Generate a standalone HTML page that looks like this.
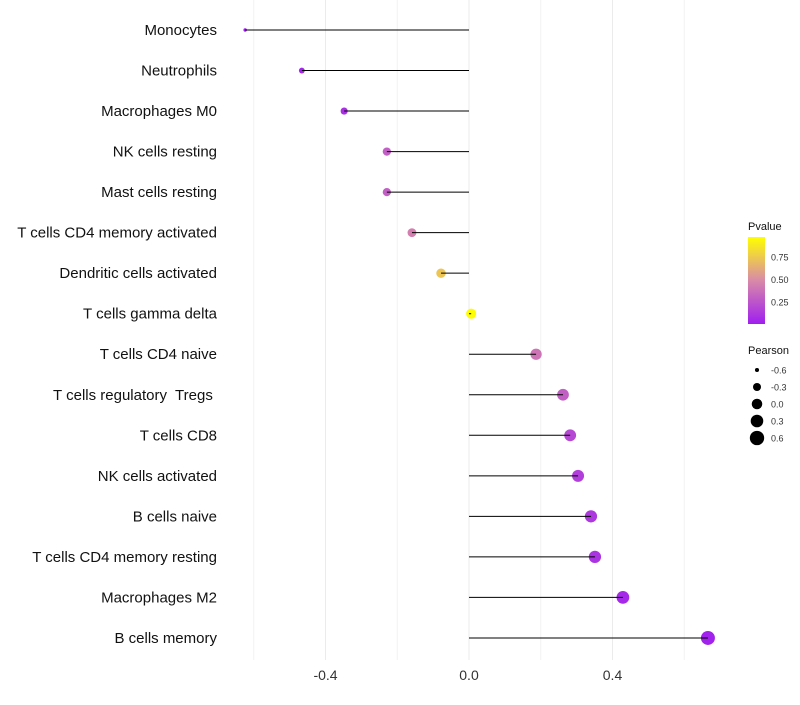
<!DOCTYPE html>
<html><head><meta charset="utf-8"><style>
body{margin:0;background:#fff;font-family:"Liberation Sans",sans-serif}
text{white-space:pre}
</style></head><body>
<svg id="chart" width="800" height="700" xmlns="http://www.w3.org/2000/svg"></svg>
<script>
const categories=["Monocytes","Neutrophils","Macrophages M0","NK cells resting","Mast cells resting","T cells CD4 memory activated","Dendritic cells activated","T cells gamma delta","T cells CD4 naive","T cells regulatory  Tregs ","T cells CD8","NK cells activated","B cells naive","T cells CD4 memory resting","Macrophages M2","B cells memory"];
const pearson=[-0.624,-0.466,-0.348,-0.229,-0.229,-0.159,-0.078,0.006,0.187,0.262,0.282,0.304,0.340,0.351,0.429,0.666];
const pvalue=[0.01,0.03,0.08,0.3,0.3,0.45,0.75,0.99,0.4,0.3,0.2,0.15,0.12,0.1,0.05,0.02];
const xTicks=[-0.4,0,0.4];
const xTickLabels=["-0.4","0.0","0.4"];
const gridMinor=[-0.6,-0.2,0.2,0.6];
const legendP=[0.25,0.5,0.75];
const legendPLabels=["0.25","0.50","0.75"];
const legendR=[-0.6,-0.3,0,0.3,0.6];
const legendRLabels=["-0.6","-0.3","0.0","0.3","0.6"];

const svg=document.getElementById('chart');
const NS="http://www.w3.org/2000/svg";
const x=v=>469+v*358.75;
const y=i=>30+i*40.53;
const r=v=>Math.sqrt(Math.max(1,25.2+35.7*v));
function col(p){
  const stops=[[0,[160,30,240]],[0.5,[216,138,168]],[1,[255,255,0]]];
  let a=stops[0],b=stops[1];if(p>0.5){a=stops[1];b=stops[2];}
  const t=(p-a[0])/(b[0]-a[0]);
  return 'rgb('+a[1].map((c,k)=>Math.round(c+(b[1][k]-c)*t)).join(',')+')';
}
function el(tag,attrs,txt){const e=document.createElementNS(NS,tag);for(const k in attrs)e.setAttribute(k,attrs[k]);if(txt!==undefined)e.textContent=txt;svg.appendChild(e);return e;}
[...gridMinor,...xTicks].forEach(v=>{
  const g=el('line',{x1:x(v),x2:x(v),y1:0,y2:660,stroke:gridMinor.includes(v)?'#f2f2f2':'#ebebeb','stroke-width':1});
  
  
});
xTicks.forEach((v,i)=>{
  const t=el('text',{x:x(v),y:680,'text-anchor':'middle','font-size':14,fill:'#333'},xTickLabels[i]);
  
  
});
categories.forEach((c,i)=>{
  const t=el('text',{x:217,y:y(i)+5,'text-anchor':'end','font-size':15,fill:'#111'},c);
  
  
  const d=el('circle',{cx:x(pearson[i]),cy:y(i),r:r(pearson[i]),fill:col(pvalue[i])});
  
  
  const l=el('line',{x1:x(0),x2:x(pearson[i]),y1:y(i),y2:y(i),stroke:'#000','stroke-width':1});
  
  
});
const pt=el('text',{x:748,y:230,'font-size':11,fill:'#111'},'Pvalue');


const defs=el('defs',{});
const lg=document.createElementNS(NS,'linearGradient');lg.setAttribute('id','pg');lg.setAttribute('x1',0);lg.setAttribute('y1',1);lg.setAttribute('x2',0);lg.setAttribute('y2',0);
[0,0.25,0.5,0.75,1].forEach(s=>{const st=document.createElementNS(NS,'stop');st.setAttribute('offset',s);st.setAttribute('stop-color',col(s));lg.appendChild(st);});
defs.appendChild(lg);
const py=p=>324.5-p*90;
const bar=el('rect',{x:748,y:237,width:17,height:87,fill:'url(#pg)'});


legendP.forEach((p,i)=>{
  const t=el('text',{x:771,y:py(p)+3.5,'font-size':9,fill:'#333'},legendPLabels[i]);
  
  
});
const rt=el('text',{x:748,y:354,'font-size':11,fill:'#111'},'Pearson');


legendR.forEach((v,i)=>{
  const cy=370+i*17;
  const c=el('circle',{cx:757,cy:cy,r:r(v)*1.05,fill:'#000'});
  
  
  const t=el('text',{x:771,y:cy+3.5,'font-size':9,fill:'#333'},legendRLabels[i]);
  
  
});
</script>
</body></html>
